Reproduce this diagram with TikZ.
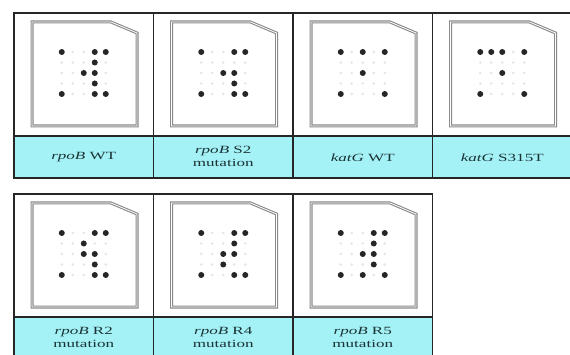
\documentclass[tikz,border=0pt]{standalone}
\usepackage{fontspec}
\setmainfont{Liberation Serif}
\definecolor{capcyan}{HTML}{A4F1F6}
\definecolor{doclinecol}{HTML}{8A8A8A}
\definecolor{captext}{HTML}{1A3436}
\tikzset{
  frame/.style={draw=black!85, line width=1.7pt},
  capband/.style={fill=capcyan, draw=black!85, line width=1.7pt},
  docshape/.style={draw=doclinecol, line width=1.1pt, double=white, double distance=0.8pt},
  spot/.style={fill=black!85, draw=none},
  faint/.style={fill=black!10, draw=none},
  captxt/.style={font=\fontsize{11}{12.5}\selectfont, text=captext, align=center, inner sep=0pt}
}
% #1 left x, #2 top y, #3 name, #4 caption, #5 dot list c/r
\newcommand{\mkpanel}[5]{%
  \begin{scope}[shift={(#1,#2)}]
    \fill[white] (0,0) rectangle (139.5,165);
    \draw[capband] (0,123) rectangle (139.5,165);
    \draw[frame] (0,0) rectangle (139.5,165);
    \draw[docshape] (18,9) -- (97,9) -- (123,20) -- (123,113) -- (18,113) -- cycle;
    \foreach \c in {1,...,5}{\foreach \r in {1,...,5}{
      \fill[faint] ({69.75+(\c-3)*11},{60+(\r-3)*10.5}) circle (1.4);}}
    \foreach \c/\r in {#5}{
      \fill[spot] ({69.75+(\c-3)*11},{60+(\r-3)*10.5}) circle (3);}
    \node[captxt] (#3) at (69.75,144.5) {\scalebox{1.55}[1]{#4}};
  \end{scope}}
\begin{document}
\begin{tikzpicture}[x=1pt,y=-1pt]
  \useasboundingbox (0,0) rectangle (570,355);
  \fill[white] (0,0) rectangle (570,355);
  \mkpanel{14}{13}{p1}{\textit{rpoB} WT}{1/1,4/1,5/1,4/2,3/3,4/3,4/4,1/5,4/5,5/5}
  \mkpanel{153.5}{13}{p2}{\begin{tabular}{@{}c@{}}\textit{rpoB} S2\\mutation\end{tabular}}{1/1,4/1,5/1,3/3,4/3,4/4,1/5,4/5,5/5}
  \mkpanel{293}{13}{p3}{\textit{katG} WT}{1/1,3/1,5/1,3/3,1/5,5/5}
  \mkpanel{432.5}{13}{p4}{\textit{katG} S315T}{1/1,2/1,3/1,5/1,3/3,1/5,5/5}
  \mkpanel{14}{194}{p5}{\begin{tabular}{@{}c@{}}\textit{rpoB} R2\\mutation\end{tabular}}{1/1,4/1,5/1,3/2,3/3,4/3,4/4,1/5,4/5,5/5}
  \mkpanel{153.5}{194}{p6}{\begin{tabular}{@{}c@{}}\textit{rpoB} R4\\mutation\end{tabular}}{1/1,4/1,5/1,4/2,3/3,4/3,3/4,1/5,4/5,5/5}
  \mkpanel{293}{194}{p7}{\begin{tabular}{@{}c@{}}\textit{rpoB} R5\\mutation\end{tabular}}{1/1,4/1,5/1,4/2,3/3,4/3,4/4,1/5,3/5,5/5}
\end{tikzpicture}
\end{document}
